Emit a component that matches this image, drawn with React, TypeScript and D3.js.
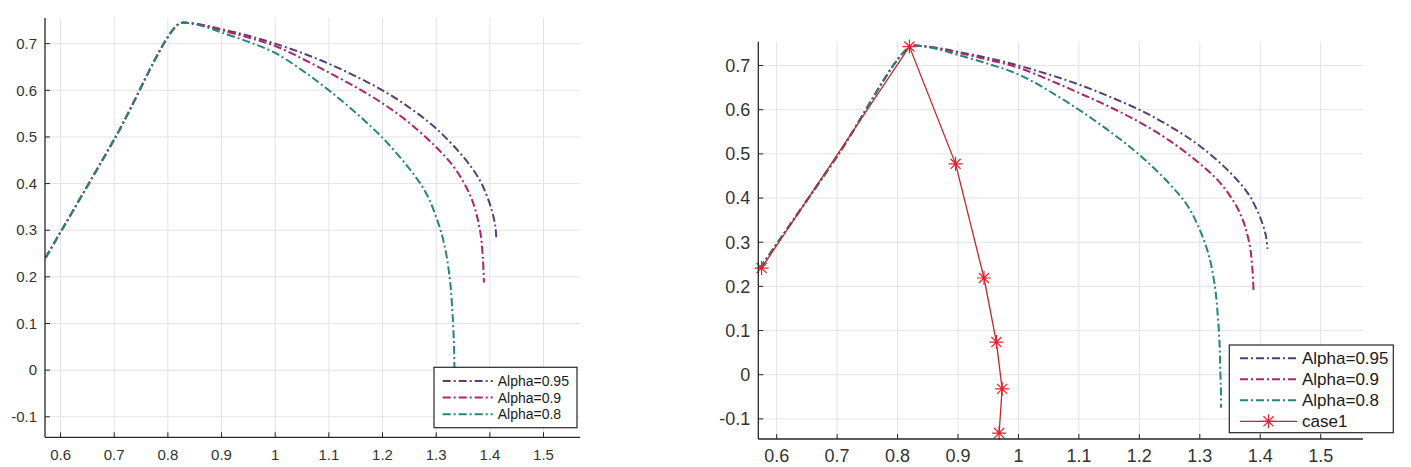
import * as d3 from 'd3';

// tick values shared by both panels
const xTicks = [0.6, 0.7, 0.8, 0.9, 1, 1.1, 1.2, 1.3, 1.4, 1.5];
const yTicks = [-0.1, 0, 0.1, 0.2, 0.3, 0.4, 0.5, 0.6, 0.7];

// Alpha = 0.95
const a95X = [0.572, 0.7, 0.82, 0.84, 0.87, 0.9, 0.95, 1.0, 1.05, 1.1, 1.15, 1.2, 1.25, 1.3, 1.35, 1.38, 1.395, 1.405, 1.41, 1.412];
const a95Y = [0.241, 0.4945, 0.742, 0.744, 0.739, 0.731, 0.717, 0.7, 0.68, 0.657, 0.63, 0.6, 0.563, 0.518, 0.458, 0.41, 0.372, 0.337, 0.31, 0.285];

// Alpha = 0.9
const a90X = [0.572, 0.7, 0.82, 0.84, 0.87, 0.9, 0.95, 1.0, 1.05, 1.1, 1.15, 1.2, 1.25, 1.3, 1.33, 1.35, 1.365, 1.375, 1.383, 1.387, 1.389];
const a90Y = [0.241, 0.4945, 0.742, 0.744, 0.738, 0.729, 0.713, 0.695, 0.668, 0.638, 0.607, 0.572, 0.53, 0.478, 0.44, 0.405, 0.37, 0.335, 0.29, 0.24, 0.188];

// Alpha = 0.8
const a80X = [0.572, 0.7, 0.82, 0.84, 0.87, 0.9, 0.95, 1.0, 1.05, 1.1, 1.15, 1.2, 1.25, 1.28, 1.3, 1.315, 1.325, 1.33, 1.333, 1.334];
const a80Y = [0.241, 0.4945, 0.742, 0.744, 0.736, 0.724, 0.704, 0.68, 0.643, 0.6, 0.552, 0.498, 0.432, 0.382, 0.328, 0.27, 0.2, 0.13, 0.06, 0.005];
// the right panel's Alpha=0.8 runs a little further down
const a80TailX = [1.335, 1.335];
const a80TailY = [-0.035, -0.075];

// case1 (right panel only)
const case1X = [0.575, 0.8196, 0.896, 0.943, 0.9635, 0.973, 0.968];
const case1Y = [0.2415, 0.743, 0.4775, 0.219, 0.074, -0.032, -0.132];

const alphaNames = ['Alpha=0.95', 'Alpha=0.9', 'Alpha=0.8'];
const alphaColors = ['#5a3d75', '#b0236c', '#25847c'];
const caseColor = '#c0282c';
const starColor = '#e8202a';
const font = '"Liberation Sans", Arial, sans-serif';
const dash = '8,3,2,3';

const zip = (xs: number[], ys: number[]) => xs.map((x, i) => [x, ys[i]] as [number, number]);

function Star({ x, y, s }: { x: number; y: number; s: number }) {
  const d = s * 0.72;
  return (
    <path
      transform={`translate(${x},${y})`}
      d={`M${-s},0L${s},0M0,${-s}L0,${s}M${-d},${-d}L${d},${d}M${-d},${d}L${d},${-d}`}
      stroke={starColor}
      strokeWidth={1.2}
      fill="none"
    />
  );
}

type PanelProps = {
  left: number; right: number; top: number; bottom: number;
  xDom: [number, number]; yDom: [number, number];
  fs: number; legendFs: number; labelBase: number;
  legend: { x: number; y: number; w: number; h: number; row0: number; step: number; s0: number; s1: number; tx: number };
  withCase: boolean;
};

function Panel(p: PanelProps) {
  const x = d3.scaleLinear().domain(p.xDom).range([p.left, p.right]);
  const y = d3.scaleLinear().domain(p.yDom).range([p.bottom, p.top]);
  const line = d3.line<[number, number]>().x(d => x(d[0])).y(d => y(d[1])).curve(d3.curveCatmullRom.alpha(0.5));
  const straight = d3.line<[number, number]>().x(d => x(d[0])).y(d => y(d[1]));

  const a80 = p.withCase ? zip(a80X.concat(a80TailX), a80Y.concat(a80TailY)) : zip(a80X, a80Y);
  const series = [zip(a95X, a95Y), zip(a90X, a90Y), a80];
  const casePts = zip(case1X, case1Y);
  const names = p.withCase ? alphaNames.concat(['case1']) : alphaNames;
  const L = p.legend;

  return (
    <g fontFamily={font}>
      {xTicks.map(t => (
        <line key={'gx' + t} x1={x(t)} x2={x(t)} y1={p.top} y2={p.bottom} stroke="#e3e3e3" strokeWidth={1} />
      ))}
      {yTicks.map(t => (
        <line key={'gy' + t} x1={p.left} x2={p.right} y1={y(t)} y2={y(t)} stroke="#e3e3e3" strokeWidth={1} />
      ))}
      {series.map((s, i) => (
        <path key={'s' + i} d={line(s) || ''} fill="none" stroke={alphaColors[i]} strokeWidth={2} strokeDasharray={dash} />
      ))}
      {p.withCase && (
        <g>
          <path d={straight(casePts) || ''} fill="none" stroke={caseColor} strokeWidth={1.3} />
          {casePts.map((d, i) => <Star key={'c' + i} x={x(d[0])} y={y(d[1])} s={7} />)}
        </g>
      )}
      <line x1={p.left} x2={p.left} y1={p.top} y2={p.bottom} stroke="#262626" strokeWidth={1.3} />
      <line x1={p.left} x2={p.right} y1={p.bottom} y2={p.bottom} stroke="#262626" strokeWidth={1.3} />
      {xTicks.map(t => (
        <g key={'tx' + t}>
          <line x1={x(t)} x2={x(t)} y1={p.bottom} y2={p.bottom - 5} stroke="#262626" strokeWidth={1} />
          <text x={x(t)} y={p.labelBase} textAnchor="middle" fontSize={p.fs} fill="#333">{String(t)}</text>
        </g>
      ))}
      {yTicks.map(t => (
        <g key={'ty' + t}>
          <line x1={p.left} x2={p.left + 5} y1={y(t)} y2={y(t)} stroke="#262626" strokeWidth={1} />
          <text x={p.left - 8} y={y(t)} dy="0.35em" textAnchor="end" fontSize={p.fs} fill="#333">{String(t)}</text>
        </g>
      ))}
      <rect x={L.x} y={L.y} width={L.w} height={L.h} fill="#fff" stroke="#262626" strokeWidth={1.2} />
      {names.map((n, i) => {
        const ry = L.y + L.row0 + i * L.step;
        const isCase = n === 'case1';
        return (
          <g key={'lg' + n}>
            <line x1={L.s0} x2={L.s1} y1={ry} y2={ry}
              stroke={isCase ? caseColor : alphaColors[i]} strokeWidth={isCase ? 1.3 : 2}
              strokeDasharray={isCase ? undefined : dash} />
            {isCase && <Star x={(L.s0 + L.s1) / 2} y={ry} s={7} />}
            <text x={L.tx} y={ry} dy="0.35em" fontSize={p.legendFs} fill="#1a1a1a">{n}</text>
          </g>
        );
      })}
    </g>
  );
}

export default function App() {
  return (
    <svg width={1411} height={467} style={{ position: 'absolute', left: 0, top: 0, background: '#fff' }}>
      <Panel
        left={45} right={580} top={18} bottom={437.3}
        xDom={[0.571, 1.568]} yDom={[-0.144, 0.755]}
        fs={15} legendFs={14} labelBase={460}
        legend={{ x: 434, y: 367.3, w: 143, h: 60.4, row0: 13.7, step: 16.6, s0: 442.7, s1: 492.7, tx: 497.7 }}
        withCase={false}
      />
      <Panel
        left={758.3} right={1363} top={41.7} bottom={439}
        xDom={[0.5696, 1.57]} yDom={[-0.1455, 0.754]}
        fs={18} legendFs={17} labelBase={462}
        legend={{ x: 1229.3, y: 345, w: 164, h: 87.7, row0: 13.3, step: 21, s0: 1240, s1: 1297, tx: 1302 }}
        withCase={true}
      />
    </svg>
  );
}
